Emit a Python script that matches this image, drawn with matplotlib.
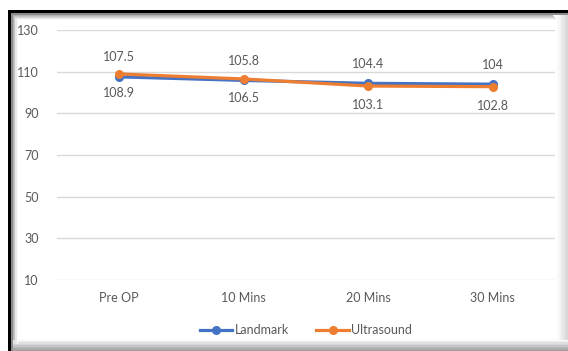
import numpy as np
import matplotlib.pyplot as plt
from matplotlib.patches import Rectangle

# data
categories = ["Pre OP", "10 Mins", "20 Mins", "30 Mins"]
landmark = [107.5, 105.8, 104.4, 104]
ultrasound = [108.9, 106.5, 103.1, 102.8]
yticks = [10, 30, 50, 70, 90, 110, 130]

blue = "#4472C4"
orange = "#ED7D31"
txt = "#595959"

plt.rcParams['font.family'] = ['Lato', 'DejaVu Sans']

W, H = 568, 351
fig = plt.figure(figsize=(W / 100, H / 100), dpi=100)

# frame: black edge on top/left, soft grey shadow along bottom/right
def px_rect(x0, y0, w, h, color):
    fig.patches.append(Rectangle((x0 / W, 1 - (y0 + h) / H), w / W, h / H,
                                 transform=fig.transFigure, color=color,
                                 lw=0, zorder=-5))

for i, g in enumerate(np.linspace(0.98, 0.62, 8)):
    px_rect(8, 339 + i * 1.5, 560, 1.6, str(g))
for i, g in enumerate(np.linspace(0.99, 0.85, 8)):
    px_rect(557 + i * 1.3, 14, 1.4, 326, str(g))
px_rect(8, 10, 560, 3, "black")
px_rect(8, 10, 3, 341, "black")
px_rect(11, 13, 557, 1.5, "0.55")
px_rect(11, 13, 1.5, 338, "0.55")
for i, g in enumerate(np.linspace(0.7, 0.98, 5)):
    px_rect(12.5 + i, 14.5 + i, 1, 325, str(g))
    px_rect(12.5 + i, 14.5 + i, 540, 1, str(g))

ax = fig.add_axes([57 / W, 1 - 280 / H, 498 / W, 250 / H])
ax.set_facecolor("none")
x = np.arange(len(categories))

ax.plot(x, landmark, color=blue, lw=2.3, marker="o", ms=5.5, label="Landmark", zorder=3)
ax.plot(x, ultrasound, color=orange, lw=2.3, marker="o", ms=5.5, label="Ultrasound", zorder=4)

for xi, v in zip(x, landmark):
    ax.annotate(f"{v:g}", (xi, v), xytext=(0, 14), textcoords="offset points",
                ha="center", va="center", fontsize=9, color=txt)
for xi, v in zip(x, ultrasound):
    ax.annotate(f"{v:g}", (xi, v), xytext=(0, -14), textcoords="offset points",
                ha="center", va="center", fontsize=9, color=txt)

ax.set_xlim(-0.5, 3.5)
ax.set_ylim(10, 130)
ax.set_yticks(yticks)
ax.set_xticks(x)
ax.set_xticklabels(categories)
ax.tick_params(axis="both", length=0, labelsize=9, labelcolor=txt)
ax.tick_params(axis="y", pad=13)
ax.tick_params(axis="x", pad=9)
ax.grid(axis="y", color="#D9D9D9", lw=1)
ax.set_axisbelow(True)
for s in ax.spines.values():
    s.set_visible(False)

leg = ax.legend(loc="center", bbox_to_anchor=(0.5, -0.2), ncol=2, frameon=False,
                fontsize=9, handlelength=2.6, columnspacing=2.2, handletextpad=0.2,
                labelcolor=txt)

fig.savefig("out.png", dpi=100)
